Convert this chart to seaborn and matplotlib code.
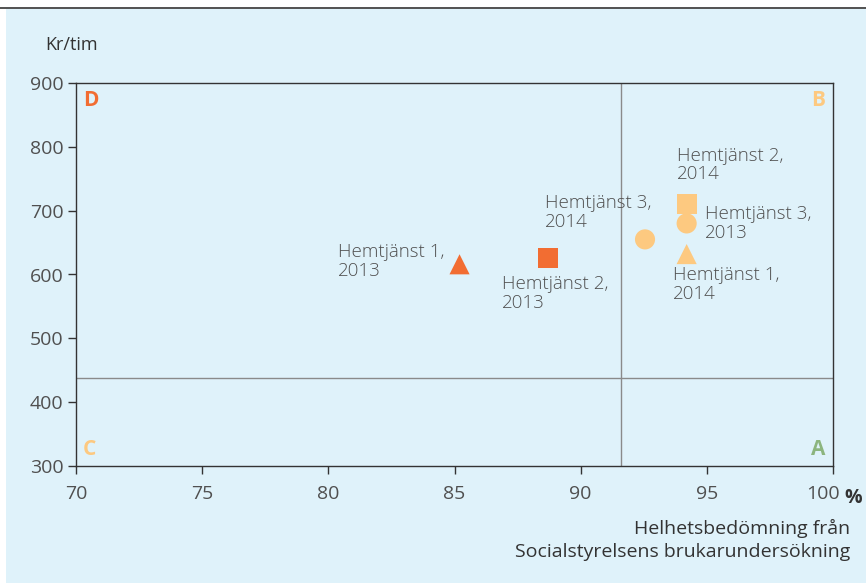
import matplotlib
matplotlib.use("Agg")
import matplotlib.pyplot as plt
import matplotlib.patches as mpatches
import matplotlib.transforms as mtransforms
import pandas as pd
import seaborn as sns

# data
labels = ["Hemtjänst 1,\n2013", "Hemtjänst 2,\n2013", "Hemtjänst 3,\n2014",
          "Hemtjänst 2,\n2014", "Hemtjänst 3,\n2013", "Hemtjänst 1,\n2014"]
unit = ["1", "2", "3", "2", "3", "1"]
quadrant = ["D", "D", "B", "B", "B", "B"]
share = [85.2, 88.7, 92.55, 94.2, 94.2, 94.2]
cost = [616, 626, 655, 711, 680, 632]
x_ticks = [70, 75, 80, 85, 90, 95, 100]
y_ticks = [300, 400, 500, 600, 700, 800, 900]
x_split = 91.6
y_split = 438

# label offsets (pixels) relative to each point
offsets = [(-122, 21), (-46, -17), (-100, 45), (-10, 57), (18, 18), (-14, -12)]

df = pd.DataFrame({"label": labels, "unit": unit, "quadrant": quadrant,
                   "share": share, "cost": cost})

sns.set_style("white")
plt.rcParams["font.family"] = ["Open Sans", "DejaVu Sans"]

bg = "#dff2fa"
txt = "#505050"
dark_orange = "#f26d32"
light_orange = "#fdc980"

fig = plt.figure(figsize=(8.66, 5.83), dpi=100)
fig.patch.set_facecolor("white")
fig.patches.append(mpatches.Rectangle((6 / 866, 0), 1, 1 - 9 / 583,
                                      transform=fig.transFigure,
                                      facecolor=bg, edgecolor="none", zorder=-5))
fig.lines.append(plt.Line2D([0, 1], [1 - 8 / 583, 1 - 8 / 583],
                            transform=fig.transFigure, color="#333333", lw=1.2,
                            zorder=-4))

ax = fig.add_axes([76 / 866, 1 - 466 / 583, (833 - 76) / 866, (466 - 83) / 583])
ax.set_zorder(2)
ax.set_facecolor(bg)

ax.axvline(x_split, color="#8a8a8a", lw=1, zorder=1)
ax.axhline(y_split, color="#8a8a8a", lw=1, zorder=1)

sns.scatterplot(data=df, x="share", y="cost", hue="quadrant", style="unit",
                palette={"D": dark_orange, "B": light_orange},
                markers={"1": "^", "2": "s", "3": "o"},
                s=210, linewidth=0, legend=False, ax=ax, zorder=3)

for lab, xv, yv, off in zip(labels, share, cost, offsets):
    ax.annotate(lab, (xv, yv), xytext=off, textcoords="offset pixels",
                ha="left", va="top", fontsize=13.5, color=txt,
                linespacing=1.05, fontweight="light")

ax.set_xlim(70, 100)
ax.set_ylim(300, 900)
ax.set_xticks(x_ticks)
ax.set_yticks(y_ticks)
ax.set_xticklabels([str(t) for t in x_ticks])
ax.tick_params(axis="both", direction="out", length=6, width=1, color="#333333",
               labelsize=14, labelcolor=txt)
ax.tick_params(axis="x", pad=8)
ax.tick_params(axis="y", pad=3)
ax.xaxis.set_ticks_position("bottom")
ax.yaxis.set_ticks_position("left")
for sp in ax.spines.values():
    sp.set_color("#333333")
    sp.set_linewidth(1)
ax.set_xlabel("")
ax.set_ylabel("")

# nudge the "100" label left to make room for the % sign
last = ax.get_xticklabels()[-1]
last.set_transform(last.get_transform() +
                   mtransforms.ScaledTranslation(-10 / 100, 0, fig.dpi_scale_trans))

ax.text(1.0145, -0.083, "%", transform=ax.transAxes, fontsize=14,
        fontweight="bold", color="#333333", ha="left", va="center")

corner = dict(transform=ax.transAxes, fontsize=15, fontweight="bold")
ax.text(0.009, 0.983, "D", color=dark_orange, ha="left", va="top", **corner)
ax.text(0.99, 0.983, "B", color=light_orange, ha="right", va="top", **corner)
ax.text(0.009, 0.015, "C", color=light_orange, ha="left", va="bottom", **corner)
ax.text(0.99, 0.015, "A", color="#8cb57e", ha="right", va="bottom", **corner)

fig.text(45 / 866, 1 - 45 / 583, "Kr/tim", fontsize=13, color="#333333",
         ha="left", va="center")
fig.text(850 / 866, 1 - 540 / 583,
         "Helhetsbedömning från\nSocialstyrelsens brukarundersökning",
         fontsize=14, color="#333333", ha="right", va="center",
         linespacing=1.3)

fig.savefig("out.png", dpi=100, facecolor=fig.get_facecolor())
